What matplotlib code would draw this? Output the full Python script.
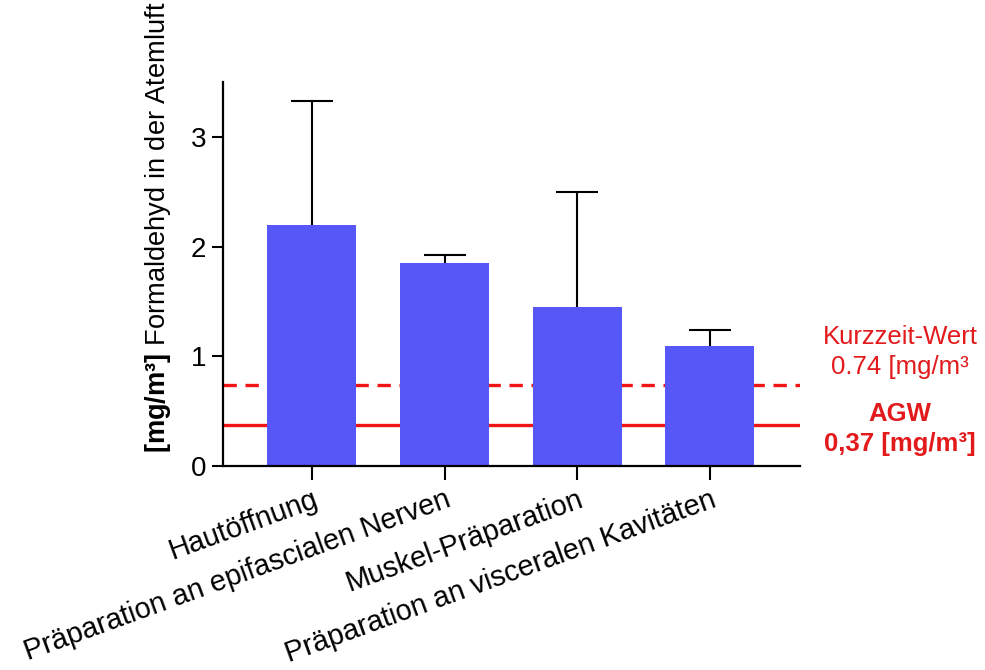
import matplotlib
matplotlib.use("Agg")
import matplotlib.pyplot as plt
import numpy as np

plt.rcParams["font.family"] = ["Liberation Sans", "DejaVu Sans"]
plt.rcParams["mathtext.fontset"] = "custom"
plt.rcParams["mathtext.rm"] = "Liberation Sans"
plt.rcParams["mathtext.bf"] = "Liberation Sans:bold"

categories = [
    "Hautöffnung",
    "Präparation an epifascialen Nerven",
    "Muskel-Präparation",
    "Präparation an visceralen Kavitäten",
]
means = [2.20, 1.85, 1.45, 1.09]
upper = [3.33, 1.92, 2.50, 1.24]
kurzzeit_wert = 0.74
agw = 0.37

BAR_COLOR = "#5757f8"
RED = "#f01414"
TEXT_RED = "#e31a1c"

fig = plt.figure(figsize=(9.85, 6.7), dpi=100)
ax = fig.add_axes([0.2264, 0.3045, 0.5858, 0.5731])

x = np.arange(len(categories))
ax.axhline(kurzzeit_wert, color=RED, lw=2.4, ls=(0, (4, 2.6)), zorder=1)
ax.axhline(agw, color=RED, lw=2.4, zorder=1)
ax.bar(x, means, width=0.67, color=BAR_COLOR, zorder=2)

err = [np.zeros(len(means)), np.array(upper) - np.array(means)]
_, caps, _ = ax.errorbar(x, means, yerr=err, fmt="none", ecolor="black",
                         elinewidth=1.5, capsize=15, capthick=1.5, zorder=3)
for cap in caps:
    if np.allclose(cap.get_ydata(), means):
        cap.set_visible(False)

ax.set_xlim(-0.67, 3.68)
ax.set_ylim(0, 3.5)
ax.set_yticks([0, 1, 2, 3])
ax.set_xticks(x)
ax.set_xticklabels(categories, rotation=20, ha="right", rotation_mode="anchor",
                   fontsize=20.8)
ax.tick_params(axis="y", labelsize=20, length=8, width=1.5, pad=4)
ax.tick_params(axis="x", length=10, width=1.5, pad=4)
for side in ["top", "right"]:
    ax.spines[side].set_visible(False)
for side in ["left", "bottom"]:
    ax.spines[side].set_linewidth(1.6)

ax.set_ylabel(r"$\mathbf{[mg/m³]}$ Formaldehyd in der Atemluft", fontsize=19.6,
              loc="bottom", labelpad=13)
ax.yaxis.label.set_y(0.034)

fig.text(0.914, 0.497, "Kurzzeit-Wert", color=TEXT_RED, fontsize=18.5,
         ha="center", va="center")
fig.text(0.914, 0.452, "0.74 [mg/m³", color=TEXT_RED, fontsize=18.5,
         ha="center", va="center")
fig.text(0.914, 0.382, "AGW", color=TEXT_RED, fontsize=18.5, fontweight="bold",
         ha="center", va="center")
fig.text(0.914, 0.337, "0,37 [mg/m³]", color=TEXT_RED, fontsize=18.5,
         fontweight="bold", ha="center", va="center")

fig.savefig("out.png", dpi=100)
